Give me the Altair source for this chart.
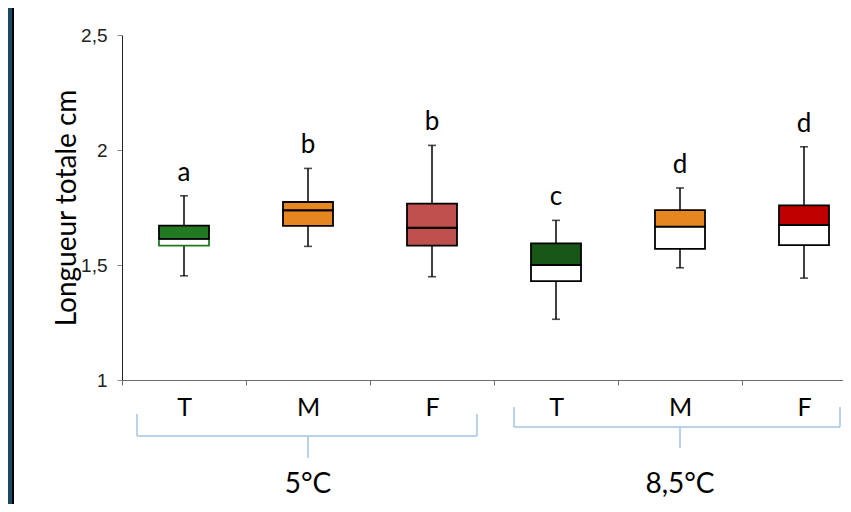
import altair as alt
import pandas as pd

# ---- data ----
categories = ["5_T", "5_M", "5_F", "8.5_T", "8.5_M", "8.5_F"]
tick_labels = ["T", "M", "F", "T", "M", "F"]
whisker_low = [1.453, 1.581, 1.449, 1.264, 1.488, 1.443]
quart1 = [1.584, 1.670, 1.584, 1.430, 1.570, 1.586]
medians = [1.614, 1.738, 1.662, 1.500, 1.667, 1.674]
quart3 = [1.671, 1.774, 1.767, 1.594, 1.739, 1.759]
whisker_high = [1.801, 1.920, 2.020, 1.694, 1.835, 2.014]
letters = ["a", "b", "b", "c", "d", "d"]
upper_fill = ["#217a21", "#e6861f", "#c0504d", "#175617", "#e6861f", "#c00000"]
lower_fill = ["#ffffff", "#e6861f", "#c0504d", "#ffffff", "#ffffff", "#ffffff"]
lower_stroke = ["#217a21", "#000000", "#000000", "#000000", "#000000", "#000000"]
groups = ["5°C", "8,5°C"]
group_center = ["5_M", "8.5_M"]

df = pd.DataFrame({
    "cat": categories, "lo": whisker_low, "q1": quart1, "med": medians,
    "q3": quart3, "hi": whisker_high, "letter": letters,
    "ufill": upper_fill, "lfill": lower_fill, "lstroke": lower_stroke,
})
gdf = pd.DataFrame({"group": groups, "cat": group_center})
one = pd.DataFrame({"k": [0]})

label_map = "{" + ",".join(f"'{c}':'{t}'" for c, t in zip(categories, tick_labels)) + "}"

x_scale = alt.Scale(domain=categories, range=[0, 744], paddingInner=0, paddingOuter=0)
y_scale = alt.Scale(domain=[1, 2.5], nice=False, zero=False)

x_enc = alt.X(
    "cat:N", scale=x_scale, sort=categories, title=None,
    axis=alt.Axis(
        labelExpr=f"{label_map}[datum.value]", labelAngle=0, tickBand="extent",
        labelFont="Lato", labelFontSize=25, labelColor="#000000", labelPadding=10,
        domainColor="#6e6e6e", tickColor="#6e6e6e", tickSize=5, grid=False,
        labelBaseline="top",
    ),
)
y_axis = alt.Axis(
    values=[1, 1.5, 2, 2.5], labelExpr="replace(toString(datum.value), '.', ',')",
    labelFont="Liberation Sans", labelFontSize=19, labelColor="#222222", labelPadding=10,
    domainColor="#222222", tickColor="#888888", tickSize=5, grid=False,
    title="Longueur totale cm", titleFont="Lato", titleFontSize=28, titleFontWeight="normal",
    titleColor="#000000", titlePadding=-1,
)

base = alt.Chart(df)

whiskers = base.mark_rule(color="#000000", strokeWidth=1.5).encode(
    x=x_enc, y=alt.Y("lo:Q", scale=y_scale, axis=y_axis), y2="hi:Q")
caps_lo = base.mark_tick(color="#000000", size=8, thickness=1.6, orient="horizontal").encode(
    x=alt.X("cat:N", sort=categories), y=alt.Y("lo:Q"))
caps_hi = base.mark_tick(color="#000000", size=8, thickness=1.6, orient="horizontal").encode(
    x=alt.X("cat:N", sort=categories), y=alt.Y("hi:Q"))
lower_box = base.mark_bar(size=50, strokeWidth=1.8).encode(
    x=alt.X("cat:N", sort=categories), y=alt.Y("q1:Q"), y2="med:Q",
    fill=alt.Fill("lfill:N", scale=None), stroke=alt.Stroke("lstroke:N", scale=None))
upper_box = base.mark_bar(size=50, strokeWidth=1.8, stroke="#000000").encode(
    x=alt.X("cat:N", sort=categories), y=alt.Y("med:Q"), y2="q3:Q",
    fill=alt.Fill("ufill:N", scale=None))
letter_text = base.mark_text(font="Lato", fontSize=26, color="#000000",
                             baseline="alphabetic", dy=-15).encode(
    x=alt.X("cat:N", sort=categories), y=alt.Y("hi:Q"), text="letter:N")

# group brackets (light blue) and group labels
bcol = "#a3c4e4"
def rule(x1, x2, y1, y2):
    return alt.Chart(one).mark_rule(color=bcol, strokeWidth=1.5).encode(
        x=alt.value(x1), x2=alt.value(x2), y=alt.value(y1), y2=alt.value(y2))

brackets = [
    rule(15, 15, 379, 401), rule(355, 355, 379, 401), rule(15, 355, 401, 401),
    rule(392, 392, 372, 392), rule(718, 718, 372, 392), rule(392, 718, 392, 392),
]
stems_a = alt.Chart(gdf.iloc[[0]]).mark_rule(color=bcol, strokeWidth=1.5).encode(
    x=alt.X("cat:N", sort=categories), y=alt.value(401), y2=alt.value(423))
stems_b = alt.Chart(gdf.iloc[[1]]).mark_rule(color=bcol, strokeWidth=1.5).encode(
    x=alt.X("cat:N", sort=categories), y=alt.value(392), y2=alt.value(413))
group_text = alt.Chart(gdf).mark_text(font="Lato", fontSize=28, color="#000000",
                                      baseline="middle").encode(
    x=alt.X("cat:N", sort=categories), y=alt.value(450), text="group:N")

# left frame strip (slide border)
frame_blue = alt.Chart(one).mark_rect(color="#174a63").encode(
    x=alt.value(-114), x2=alt.value(-110), y=alt.value(-27), y2=alt.value(469))
frame_black = alt.Chart(one).mark_rect(color="#000000").encode(
    x=alt.value(-110), x2=alt.value(-108), y=alt.value(-27), y2=alt.value(469))

chart = alt.layer(
    whiskers, lower_box, upper_box, caps_lo, caps_hi, letter_text,
    *brackets, stems_a, stems_b, group_text, frame_blue, frame_black,
).properties(
    width=721, height=345,
    autosize=alt.AutoSizeParams(type="none"),
    padding={"left": 114, "top": 27, "right": 0, "bottom": 124},
    background="#ffffff",
).configure_view(stroke=None)

chart.save("out.html", embed_options={"renderer": "svg", "actions": False})
